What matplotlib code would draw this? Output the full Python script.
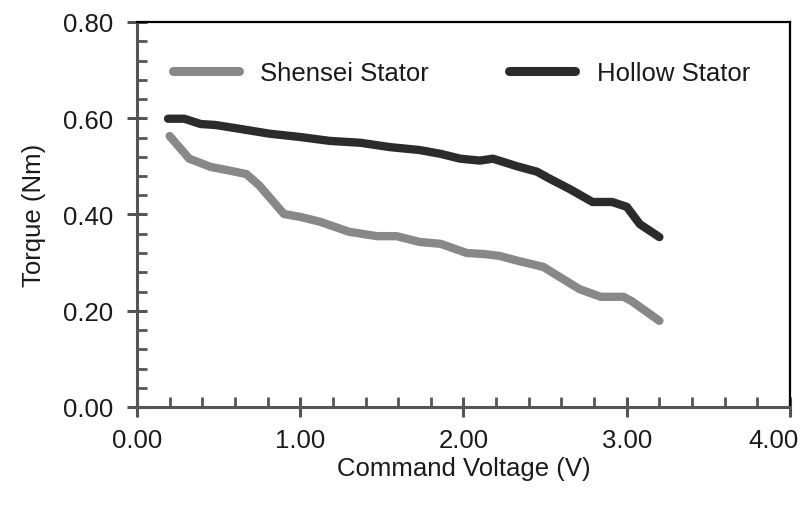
import matplotlib
matplotlib.use("Agg")
import matplotlib.pyplot as plt
from matplotlib.ticker import MultipleLocator, FuncFormatter

plt.rcParams['font.family'] = ['Liberation Sans', 'DejaVu Sans']

hollow_v = [0.19, 0.29, 0.39, 0.48, 0.63, 0.81, 1.00, 1.18, 1.37, 1.55, 1.73, 1.86, 1.98,
            2.10, 2.18, 2.33, 2.45, 2.53, 2.65, 2.79, 2.91, 3.00, 3.08, 3.20]
hollow_t = [0.599, 0.599, 0.588, 0.586, 0.578, 0.568, 0.561, 0.553, 0.549, 0.540, 0.534, 0.526, 0.516,
            0.512, 0.516, 0.500, 0.489, 0.474, 0.453, 0.426, 0.426, 0.416, 0.380, 0.353]

shensei_v = [0.20, 0.32, 0.45, 0.57, 0.67, 0.75, 0.90, 1.00, 1.12, 1.30, 1.47, 1.59, 1.73, 1.86,
             2.02, 2.12, 2.22, 2.33, 2.49, 2.59, 2.71, 2.84, 2.98, 3.03, 3.20]
shensei_t = [0.563, 0.516, 0.499, 0.491, 0.484, 0.460, 0.401, 0.395, 0.385, 0.364, 0.355, 0.355, 0.343, 0.339,
             0.320, 0.318, 0.314, 0.304, 0.291, 0.270, 0.245, 0.229, 0.229, 0.220, 0.179]

X_MAX = 4.0
FS = 18.5
TXT = '#1a1a1a'
fig = plt.figure(figsize=(8.03, 5.06), dpi=100)
ax = fig.add_axes([137/803, 98/506, 653/803, 385/506])

ax.plot(shensei_v, shensei_t, color='#888888', lw=6, solid_capstyle='round',
        solid_joinstyle='round', label='Shensei Stator')
ax.plot(hollow_v, hollow_t, color='#2b2b2b', lw=6, solid_capstyle='round',
        solid_joinstyle='round', label='Hollow Stator')

ax.set_xlim(0, X_MAX)
ax.set_ylim(0, 0.8)
ax.xaxis.set_major_locator(MultipleLocator(1))
ax.xaxis.set_minor_locator(MultipleLocator(0.2))
ax.yaxis.set_major_locator(MultipleLocator(0.2))
ax.yaxis.set_minor_locator(MultipleLocator(0.04))
ax.xaxis.set_major_formatter(FuncFormatter(lambda v, p: '' if abs(v - X_MAX) < 1e-9 else f'{v:.2f}'))
ax.yaxis.set_major_formatter(FuncFormatter(lambda v, p: f'{v:.2f}'))

for s in ['left', 'bottom']:
    ax.spines[s].set_color('#555555')
    ax.spines[s].set_linewidth(2.2)
for s in ['top', 'right']:
    ax.spines[s].set_color('black')
    ax.spines[s].set_linewidth(1.6)

ax.tick_params(which='major', direction='inout', length=14, width=2.2, color='#555555',
               labelsize=FS, top=False, right=False, labelcolor=TXT)
ax.tick_params(axis='x', which='major', pad=8)
ax.tick_params(axis='y', which='major', pad=10)
ax.tick_params(which='minor', direction='in', length=7, width=2, color='#555555', top=False, right=False)

# last x tick label, shifted left as in the reference
ax.annotate(f'{X_MAX:.2f}', xy=(X_MAX, 0), xycoords=('data', 'axes fraction'),
            xytext=(-12, -15), textcoords='offset points', ha='center', va='top',
            fontsize=FS, color=TXT, annotation_clip=False)

ax.set_xlabel('Command Voltage (V)', fontsize=FS, labelpad=3, color=TXT)
ax.set_ylabel('Torque (Nm)', fontsize=FS, labelpad=12, color=TXT)

leg = ax.legend(loc='upper left', bbox_to_anchor=(0.019, 0.96), ncol=2, frameon=False, fontsize=FS,
                handlelength=2.57, handletextpad=0.85, columnspacing=3.1)
for line in leg.get_lines():
    line.set_linewidth(6.5)
for t in leg.get_texts():
    t.set_color(TXT)

fig.savefig('out.png', dpi=100)
